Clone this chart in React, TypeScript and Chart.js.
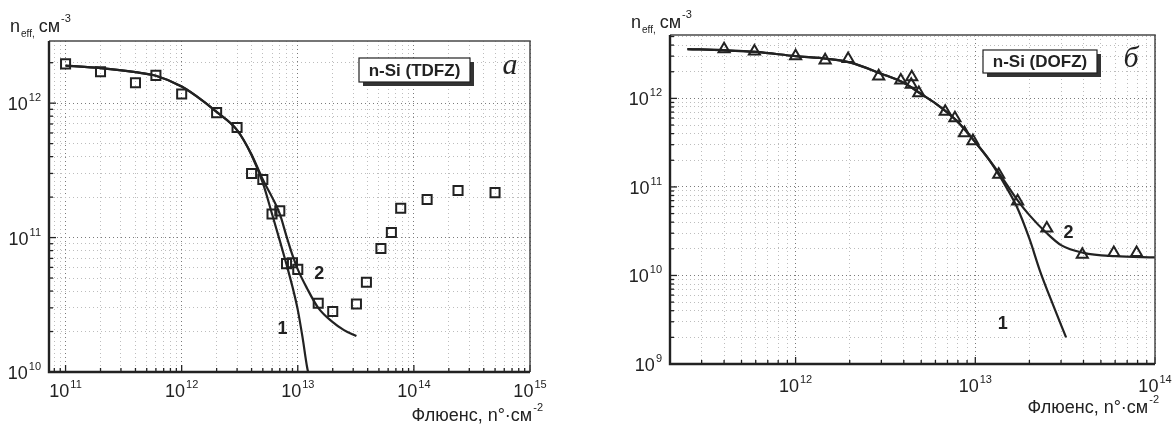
import React, { useEffect, useRef } from 'react';
import { Chart, registerables } from 'chart.js';

Chart.register(...registerables);

// ---------- Panel а : n-Si (TDFZ) ----------
const fluenceA = [1e11, 2e11, 4e11, 6e11, 1e12, 2e12, 3e12, 4e12, 5e12, 6e12, 7e12, 8e12, 9e12, 1e13, 1.5e13, 2e13, 3.2e13, 3.9e13, 5.2e13, 6.4e13, 7.7e13, 1.3e14, 2.4e14, 5e14];
const neffA = [1.96e12, 1.71e12, 1.42e12, 1.61e12, 1.17e12, 8.5e11, 6.6e11, 3.0e11, 2.7e11, 1.5e11, 1.58e11, 6.4e10, 6.5e10, 5.8e10, 3.25e10, 2.82e10, 3.2e10, 4.65e10, 8.3e10, 1.09e11, 1.65e11, 1.92e11, 2.24e11, 2.16e11];
const curve1FluenceA = [1e11, 2e11, 4e11, 6e11, 1e12, 1.5e12, 2e12, 3e12, 4e12, 5e12, 6e12, 7e12, 8e12, 9e12, 1e13, 1.1e13, 1.2e13, 1.26e13];
const curve1NeffA = [1.9e12, 1.82e12, 1.7e12, 1.6e12, 1.33e12, 1.05e12, 8.6e11, 6.3e11, 4.1e11, 2.55e11, 1.5e11, 9.5e10, 6.3e10, 4.3e10, 2.9e10, 1.8e10, 1.1e10, 9e9];
const curve2FluenceA = [1e11, 2e11, 4e11, 6e11, 1e12, 1.5e12, 2e12, 3e12, 4e12, 5e12, 6e12, 7e12, 8e12, 9e12, 1e13, 1.2e13, 1.5e13, 2e13, 2.5e13, 3.2e13];
const curve2NeffA = [1.9e12, 1.82e12, 1.7e12, 1.6e12, 1.33e12, 1.05e12, 8.6e11, 6.3e11, 4.15e11, 2.7e11, 2.0e11, 1.5e11, 1.02e11, 7.4e10, 5.8e10, 4.2e10, 3.0e10, 2.35e10, 2.05e10, 1.85e10];
const xTickExpA = [11, 12, 13, 14, 15];
const yTickExpA = [10, 11, 12];

// ---------- Panel б : n-Si (DOFZ) ----------
const fluenceB = [4.0e11, 5.9e11, 1.0e12, 1.46e12, 1.96e12, 2.9e12, 3.85e12, 4.43e12, 4.4e12, 4.85e12, 6.8e12, 7.7e12, 8.7e12, 9.7e12, 1.35e13, 1.72e13, 2.5e13, 3.94e13, 5.9e13, 7.9e13];
const neffB = [3.6e12, 3.4e12, 3.0e12, 2.7e12, 2.8e12, 1.78e12, 1.6e12, 1.74e12, 1.43e12, 1.15e12, 7.1e11, 6.0e11, 4.07e11, 3.3e11, 1.38e11, 6.9e10, 3.4e10, 1.72e10, 1.8e10, 1.8e10];
const curve1FluenceB = [2.5e11, 4e11, 6e11, 1e12, 1.5e12, 2e12, 3e12, 4e12, 5e12, 6e12, 7e12, 8e12, 1e13, 1.2e13, 1.4e13, 1.7e13, 2e13, 2.3e13, 2.75e13, 3.2e13];
const curve1NeffB = [3.6e12, 3.5e12, 3.35e12, 3.0e12, 2.8e12, 2.55e12, 1.9e12, 1.5e12, 1.12e12, 8.8e11, 6.9e11, 5.4e11, 3.2e11, 2.0e11, 1.22e11, 6.0e10, 2.6e10, 1.1e10, 4.3e9, 2.0e9];
const curve2FluenceB = [2.5e11, 4e11, 6e11, 1e12, 1.5e12, 2e12, 3e12, 4e12, 5e12, 6e12, 7e12, 8e12, 1e13, 1.2e13, 1.4e13, 1.7e13, 2e13, 2.5e13, 3e13, 4e13, 6e13, 1e14];
const curve2NeffB = [3.6e12, 3.5e12, 3.35e12, 3.0e12, 2.8e12, 2.55e12, 1.9e12, 1.5e12, 1.12e12, 8.8e11, 6.9e11, 5.4e11, 3.2e11, 2.0e11, 1.3e11, 7.3e10, 4.8e10, 3.0e10, 2.2e10, 1.8e10, 1.65e10, 1.6e10];
const xTickExpB = [12, 13, 14];
const yTickExpB = [9, 10, 11, 12];

const FONT = '"Liberation Sans", Arial, sans-serif';
const SERIF = '"Liberation Serif", "Times New Roman", serif';
const INK = '#222222';

type Label = { text: string; x: number; y: number };
type PanelCfg = {
  width: number;
  padding: { left: number; right: number; top: number; bottom: number };
  xMin: number; xMax: number; yMin: number; yMax: number;
  points: { x: number; y: number }[];
  pointStyle: string;
  pointRadius: number;
  fit1: { x: number; y: number }[];
  fit2: { x: number; y: number }[];
  xExp: number[]; yExp: number[];
  labels: Label[];
  box: { text: string; x: number; y: number; w: number; h: number };
  letter: { text: string; x: number; y: number };
  yTitle: { x: number; y: number };
  xTitle: { right: number; y: number };
  xLabelOffset: number;
};

const pts = (xs: number[], ys: number[]) => xs.map((x, i) => ({ x, y: ys[i] }));

const isMajor = (v: number) => {
  const l = Math.log10(v);
  return Math.abs(l - Math.round(l)) < 1e-9;
};
const isClean = (v: number) => {
  const l = Math.log10(v);
  const m = v / Math.pow(10, Math.floor(l + 1e-9));
  return Math.abs(m - Math.round(m)) < 1e-6;
};

function drawPow(ctx: CanvasRenderingContext2D, exp: string, x: number, y: number, align: 'center' | 'right') {
  ctx.font = `18px ${FONT}`;
  const wb = ctx.measureText('10').width;
  ctx.font = `11px ${FONT}`;
  const we = ctx.measureText(exp).width;
  const total = wb + we + 1;
  const x0 = align === 'center' ? x - total / 2 : x - total;
  ctx.textAlign = 'left';
  ctx.textBaseline = 'alphabetic';
  ctx.font = `18px ${FONT}`;
  ctx.fillText('10', x0, y);
  ctx.font = `11px ${FONT}`;
  ctx.fillText(exp, x0 + wb + 1, y - 9);
}

function makeDecor(cfg: PanelCfg) {
  return {
    id: 'decor',
    afterDraw(chart: any) {
      const { ctx, chartArea: a } = chart;
      const xs = chart.scales.x;
      const ys = chart.scales.y;
      ctx.save();
      ctx.fillStyle = INK;
      ctx.strokeStyle = INK;
      ctx.setLineDash([]);

      // inward tick marks
      ctx.lineWidth = 1.3;
      xs.ticks.forEach((t: any) => {
        const v = t.value;
        if (!isClean(v)) return;
        const px = xs.getPixelForValue(v);
        if (px < a.left || px > a.right) return;
        const len = isMajor(v) ? 7 : 4;
        ctx.beginPath();
        ctx.moveTo(px, a.bottom);
        ctx.lineTo(px, a.bottom - len);
        ctx.stroke();
      });
      ys.ticks.forEach((t: any) => {
        const v = t.value;
        if (!isClean(v)) return;
        const py = ys.getPixelForValue(v);
        if (py < a.top || py > a.bottom) return;
        const len = isMajor(v) ? 7 : 4;
        ctx.beginPath();
        ctx.moveTo(a.left, py);
        ctx.lineTo(a.left + len, py);
        ctx.stroke();
      });

      // frame
      ctx.lineWidth = 1.5;
      ctx.strokeStyle = '#4a4a4a';
      ctx.beginPath();
      ctx.moveTo(a.left, a.top);
      ctx.lineTo(a.right, a.top);
      ctx.lineTo(a.right, a.bottom);
      ctx.stroke();
      ctx.lineWidth = 2.4;
      ctx.strokeStyle = INK;
      ctx.beginPath();
      ctx.moveTo(a.left, a.top);
      ctx.lineTo(a.left, a.bottom);
      ctx.lineTo(a.right, a.bottom);
      ctx.stroke();

      // tick labels
      cfg.xExp.forEach((e) => {
        const px = xs.getPixelForValue(Math.pow(10, e));
        drawPow(ctx, String(e), px, a.bottom + cfg.xLabelOffset, 'center');
      });
      cfg.yExp.forEach((e) => {
        const py = ys.getPixelForValue(Math.pow(10, e));
        drawPow(ctx, String(e), a.left - 8, py + 7, 'right');
      });

      // y title: n_eff, см^-3
      {
        let x = cfg.yTitle.x;
        const y = cfg.yTitle.y;
        ctx.textAlign = 'left';
        ctx.font = `18px ${FONT}`;
        ctx.fillText('n', x, y);
        x += ctx.measureText('n').width + 1;
        ctx.font = `10px ${FONT}`;
        ctx.fillText('eff,', x, y + 5);
        x += ctx.measureText('eff,').width + 4;
        ctx.font = `18px ${FONT}`;
        ctx.fillText('см', x, y);
        x += ctx.measureText('см').width + 1;
        ctx.font = `11px ${FONT}`;
        ctx.fillText('-3', x, y - 10);
      }

      // x title: Флюенс, n°·см^-2
      {
        const main = 'Флюенс, n°·см';
        ctx.font = `18px ${FONT}`;
        const wm = ctx.measureText(main).width;
        ctx.font = `11px ${FONT}`;
        const ws = ctx.measureText('-2').width;
        const x0 = cfg.xTitle.right - wm - ws - 1;
        ctx.textAlign = 'left';
        ctx.font = `18px ${FONT}`;
        ctx.fillText(main, x0, cfg.xTitle.y);
        ctx.font = `11px ${FONT}`;
        ctx.fillText('-2', x0 + wm + 1, cfg.xTitle.y - 10);
      }

      // curve labels
      ctx.font = `bold 18px ${FONT}`;
      ctx.textAlign = 'center';
      ctx.textBaseline = 'middle';
      cfg.labels.forEach((l) => {
        ctx.fillText(l.text, xs.getPixelForValue(l.x), ys.getPixelForValue(l.y));
      });

      // sample box with shadow
      const b = cfg.box;
      ctx.fillStyle = '#333';
      ctx.fillRect(b.x + 4, b.y + 4, b.w, b.h);
      ctx.fillStyle = '#fff';
      ctx.fillRect(b.x, b.y, b.w, b.h);
      ctx.lineWidth = 1.2;
      ctx.strokeStyle = INK;
      ctx.strokeRect(b.x, b.y, b.w, b.h);
      ctx.fillStyle = INK;
      ctx.font = `bold 17px ${FONT}`;
      ctx.textAlign = 'center';
      ctx.textBaseline = 'middle';
      ctx.fillText(b.text, b.x + b.w / 2, b.y + b.h / 2 + 1);

      // panel letter
      ctx.font = `italic 30px ${SERIF}`;
      ctx.textAlign = 'center';
      ctx.textBaseline = 'alphabetic';
      ctx.fillText(cfg.letter.text, cfg.letter.x, cfg.letter.y);

      ctx.restore();
    },
  };
}

const gridColor = (c: any) => {
  const v = c.tick && c.tick.value;
  if (!v) return 'rgba(0,0,0,0)';
  if (isMajor(v)) return '#7a7a7a';
  return isClean(v) ? '#bdbdbd' : 'rgba(0,0,0,0)';
};

function Panel({ cfg }: { cfg: PanelCfg }) {
  const ref = useRef<HTMLCanvasElement>(null);
  useEffect(() => {
    if (!ref.current) return;
    const chart = new Chart(ref.current, {
      type: 'scatter',
      data: {
        datasets: [
          {
            data: cfg.points,
            pointStyle: cfg.pointStyle as any,
            pointRadius: cfg.pointRadius,
            pointBorderWidth: 2,
            pointBorderColor: INK,
            pointBackgroundColor: 'rgba(255,255,255,0)',
            showLine: false,
          },
          {
            data: cfg.fit1,
            showLine: true,
            pointRadius: 0,
            borderColor: INK,
            borderWidth: 2.2,
            cubicInterpolationMode: 'monotone',
            fill: false,
          },
          {
            data: cfg.fit2,
            showLine: true,
            pointRadius: 0,
            borderColor: INK,
            borderWidth: 2.2,
            cubicInterpolationMode: 'monotone',
            fill: false,
          },
        ],
      } as any,
      options: {
        responsive: false,
        animation: false,
        devicePixelRatio: 1,
        layout: { padding: cfg.padding },
        plugins: { legend: { display: false }, tooltip: { enabled: false } },
        scales: {
          x: {
            type: 'logarithmic',
            min: cfg.xMin,
            max: cfg.xMax,
            ticks: { display: false },
            grid: { color: gridColor, lineWidth: 1, drawTicks: false },
            border: { display: false, dash: [1, 3] },
            afterFit: (s: any) => { s.height = 0; },
          },
          y: {
            type: 'logarithmic',
            min: cfg.yMin,
            max: cfg.yMax,
            ticks: { display: false },
            grid: { color: gridColor, lineWidth: 1, drawTicks: false },
            border: { display: false, dash: [1, 3] },
            afterFit: (s: any) => { s.width = 0; },
          },
        },
      } as any,
      plugins: [makeDecor(cfg)],
    });
    return () => chart.destroy();
  }, [cfg]);
  return <canvas ref={ref} width={cfg.width} height={428} style={{ display: 'block' }} />;
}

const cfgA: PanelCfg = {
  width: 590,
  padding: { left: 49, right: 60, top: 41, bottom: 56 },
  xMin: 7.2e10, xMax: 1e15, yMin: 1e10, yMax: 2.9e12,
  points: pts(fluenceA, neffA),
  pointStyle: 'rect',
  pointRadius: 6.4,
  fit1: pts(curve1FluenceA, curve1NeffA),
  fit2: pts(curve2FluenceA, curve2NeffA),
  xExp: xTickExpA, yExp: yTickExpA,
  labels: [{ text: '2', x: 1.53e13, y: 5.4e10 }, { text: '1', x: 7.4e12, y: 2.1e10 }],
  box: { text: 'n-Si (TDFZ)', x: 359, y: 58, w: 111, h: 24 },
  letter: { text: 'а', x: 510, y: 74 },
  yTitle: { x: 10, y: 32 },
  xTitle: { right: 543, y: 421 },
  xLabelOffset: 25,
};

const cfgB: PanelCfg = {
  width: 582,
  padding: { left: 80, right: 17, top: 35, bottom: 64 },
  xMin: 2.0e11, xMax: 1e14, yMin: 1e9, yMax: 5.2e12,
  points: pts(fluenceB, neffB),
  pointStyle: 'triangle',
  pointRadius: 6.4,
  fit1: pts(curve1FluenceB, curve1NeffB),
  fit2: pts(curve2FluenceB, curve2NeffB),
  xExp: xTickExpB, yExp: yTickExpB,
  labels: [{ text: '2', x: 3.3e13, y: 3.0e10 }, { text: '1', x: 1.42e13, y: 2.8e9 }],
  box: { text: 'n-Si (DOFZ)', x: 393, y: 50, w: 114, h: 23 },
  letter: { text: 'б', x: 541, y: 67 },
  yTitle: { x: 41, y: 28 },
  xTitle: { right: 569, y: 413 },
  xLabelOffset: 28,
};

export default function App() {
  return (
    <div style={{ position: 'fixed', left: 0, top: 0, width: 1172, height: 428, background: '#fff', overflow: 'hidden' }}>
      <div style={{ position: 'absolute', left: 0, top: 0, width: 590, height: 428 }}>
        <Panel cfg={cfgA} />
      </div>
      <div style={{ position: 'absolute', left: 590, top: 0, width: 582, height: 428 }}>
        <Panel cfg={cfgB} />
      </div>
    </div>
  );
}
